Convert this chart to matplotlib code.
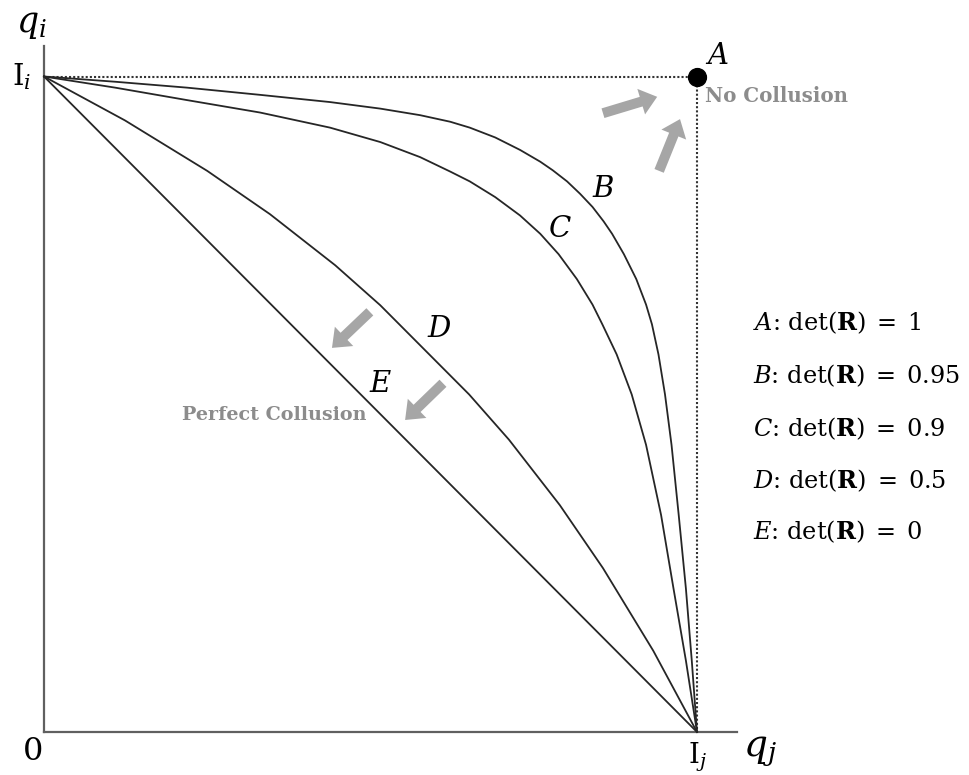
import matplotlib
matplotlib.use("Agg")
import matplotlib.pyplot as plt

plt.rcParams['font.family'] = ['DejaVu Serif']
plt.rcParams['mathtext.fontset'] = 'dejavuserif'

# frontier curves, read point by point (q_j, q_i), normalised to I_j = I_i = 1
curve_b_x = [0.0, 0.109, 0.219, 0.331, 0.438, 0.515, 0.576, 0.622, 0.652, 0.691, 0.729, 0.760,
             0.779, 0.801, 0.821, 0.840, 0.857, 0.870, 0.888, 0.907, 0.922, 0.931, 0.941,
             0.951, 0.961, 0.972, 0.983, 0.992, 1.0]
curve_b_y = [1.0, 0.992, 0.983, 0.972, 0.961, 0.951, 0.941, 0.931, 0.922, 0.907, 0.888, 0.870,
             0.857, 0.840, 0.821, 0.801, 0.779, 0.760, 0.729, 0.691, 0.652, 0.622, 0.576,
             0.515, 0.438, 0.331, 0.219, 0.109, 0.0]

curve_c_x = [0.0, 0.109, 0.219, 0.331, 0.438, 0.515, 0.576, 0.622, 0.652, 0.691, 0.729, 0.760,
             0.788, 0.816, 0.840, 0.855, 0.877, 0.900, 0.922, 0.945, 0.964, 0.983, 1.0]
curve_c_y = [1.0, 0.983, 0.964, 0.945, 0.922, 0.900, 0.877, 0.855, 0.840, 0.816, 0.788, 0.760,
             0.729, 0.691, 0.652, 0.622, 0.576, 0.515, 0.438, 0.331, 0.219, 0.109, 0.0]

curve_d_x = [0.0, 0.124, 0.250, 0.346, 0.446, 0.515, 0.583, 0.651, 0.712, 0.790, 0.856, 0.933, 1.0]
curve_d_y = [1.0, 0.933, 0.856, 0.790, 0.712, 0.651, 0.583, 0.515, 0.446, 0.346, 0.250, 0.124, 0.0]

curve_e_x = [0.0, 1.0]
curve_e_y = [1.0, 0.0]

curve_names = ['A', 'B', 'C', 'D', 'E']
det_values = ['1', '0.95', '0.9', '0.5', '0']

fig = plt.figure(figsize=(9.7, 7.75), dpi=100)
ax = fig.add_axes([44 / 970, 43 / 775, 653 / 970, 655.5 / 775])
ax.set_xlim(0, 1)
ax.set_ylim(0, 1)
ax.axis('off')

# axes drawn by hand so they can run past the unit square
ax.plot([0, 0], [0, 1.047], color='#606060', lw=1.6, clip_on=False)
ax.plot([0, 1.061], [0, 0], color='#606060', lw=1.6, clip_on=False)

# no-collusion corner
ax.plot([0, 1], [1, 1], color='#333333', lw=1.5, ls=(0, (1, 1)), clip_on=False)
ax.plot([1, 1], [1, 0], color='#333333', lw=1.5, ls=(0, (1, 1)), clip_on=False)

curve_col = '#262626'
for cx, cy in [(curve_b_x, curve_b_y), (curve_c_x, curve_c_y),
               (curve_d_x, curve_d_y), (curve_e_x, curve_e_y)]:
    ax.plot(cx, cy, color=curve_col, lw=1.3, solid_joinstyle='round', clip_on=False)

ax.scatter([1], [1], s=165, color='black', zorder=5, clip_on=False)

# curve letters
lab_size = 21
ax.text(1.012, 1.010, '$A$', fontsize=lab_size, ha='left', va='bottom')
ax.text(0.857, 0.829, '$B$', fontsize=lab_size, ha='center', va='center')
ax.text(0.790, 0.768, '$C$', fontsize=lab_size, ha='center', va='center')
ax.text(0.606, 0.615, '$D$', fontsize=lab_size, ha='center', va='center')
ax.text(0.515, 0.531, '$E$', fontsize=lab_size, ha='center', va='center')

# axis labels
ax.text(-0.034, 1.0, r'$\mathrm{I}_i$', fontsize=21, ha='center', va='center')
ax.text(1.0, -0.013, r'$\mathrm{I}_j$', fontsize=20, ha='center', va='top')
ax.text(-0.017, -0.006, '0', fontsize=23, ha='center', va='top')
ax.text(-0.020, 1.080, '$q_i$', fontsize=25, ha='center', va='center')
ax.text(1.070, -0.027, '$q_j$', fontsize=27, ha='left', va='center')

# gray annotations
gray = '#8c8c8c'
ax.text(1.012, 0.970, 'No Collusion', fontsize=14.3, fontweight='bold',
        color=gray, ha='left', va='center')
ax.text(0.211, 0.483, 'Perfect Collusion', fontsize=13.8, fontweight='bold',
        color=gray, ha='left', va='center')

arrow_col = '#a6a6a6'
arrow_style = 'simple,head_length=1.0,head_width=1.6,tail_width=0.6'
for tail, tip in [((0.856, 0.944), (0.939, 0.969)),
                  ((0.942, 0.856), (0.974, 0.935)),
                  ((0.499, 0.641), (0.441, 0.586)),
                  ((0.611, 0.532), (0.553, 0.476))]:
    ax.annotate('', xy=tip, xytext=tail,
                arrowprops=dict(arrowstyle=arrow_style, color=arrow_col,
                                mutation_scale=12, shrinkA=0, shrinkB=0, lw=0))

# legend of determinant values
rows_y = [0.624, 0.543, 0.463, 0.384, 0.305]
for name, val, yy in zip(curve_names, det_values, rows_y):
    ax.text(1.085, yy, r'$%s$: $\mathrm{det}(\mathbf{R})\;=\;%s$' % (name, val),
            fontsize=17.3, ha='left', va='center')

fig.savefig('out.png', dpi=100)
